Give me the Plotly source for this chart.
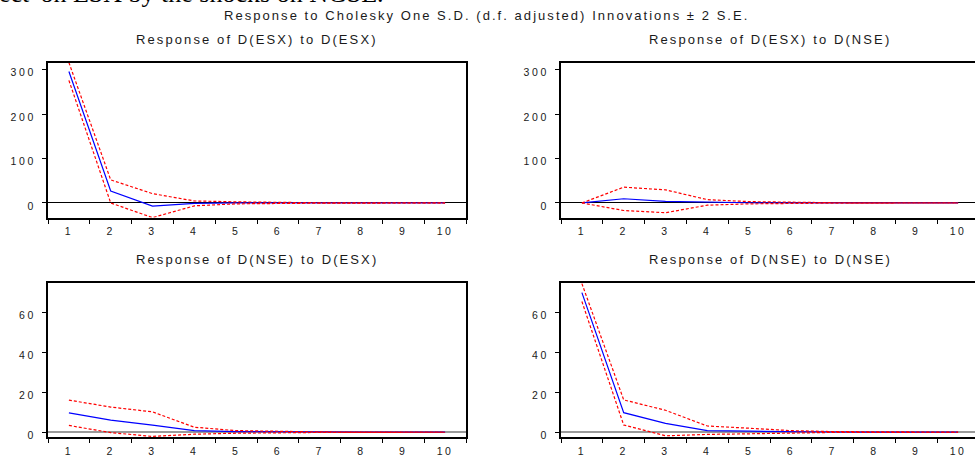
import plotly.graph_objects as go

# ---------------- data ----------------
periods = [1, 2, 3, 4, 5, 6, 7, 8, 9, 10]

esx_esx_resp = [296, 27, -7, -1, 0.3, 0.1, 0.0, 0.0, 0.0, 0.0]
esx_esx_up = [316, 52, 21, 4.5, 2.5, 1.0, 0.4, 0.2, 0.1, 0.05]
esx_esx_lo = [276, 0, -33, -6.5, -2.0, -0.8, -0.4, -0.2, -0.1, -0.05]

esx_nse_resp = [0, 9.5, 3.7, 1.5, 0.5, 0.2, 0.1, 0.0, 0.0, 0.0]
esx_nse_up = [0, 35.5, 29.5, 7.5, 3.0, 1.2, 0.5, 0.2, 0.1, 0.05]
esx_nse_lo = [0, -17, -22, -5, -2.0, -0.8, -0.3, -0.2, -0.1, -0.05]

nse_esx_resp = [9.7, 6.1, 3.6, 0.8, 0.3, 0.1, 0.05, 0.0, 0.0, 0.0]
nse_esx_up = [16.1, 12.6, 10.2, 2.5, 0.8, 0.35, 0.15, 0.05, 0.02, 0.01]
nse_esx_lo = [3.4, -0.2, -2.1, -1.0, -0.5, -0.2, -0.1, -0.05, -0.02, -0.01]

nse_nse_resp = [70, 9.8, 4.4, 0.8, 0.5, 0.2, 0.1, 0.05, 0.0, 0.0]
nse_nse_up = [74.5, 16.2, 11, 3.1, 2.0, 0.8, 0.3, 0.1, 0.05, 0.02]
nse_nse_lo = [65.5, 3.6, -1.8, -1.1, -0.8, -0.4, -0.1, -0.05, -0.02, -0.01]

top_yticks = [0, 100, 200, 300]
bottom_yticks = [0, 20, 40, 60]

main_title = "Response to Cholesky One S.D. (d.f. adjusted) Innovations ± 2 S.E."
panel_titles = [
    "Response of D(ESX) to D(ESX)",
    "Response of D(ESX) to D(NSE)",
    "Response of D(NSE) to D(ESX)",
    "Response of D(NSE) to D(NSE)",
]
doc_text = "ect' on ESX by the shocks on NGSE."

# ---------------- layout helpers ----------------
W, H = 975, 457
FONT = "Liberation Sans, Arial, sans-serif"
TXT = "#1a1a1a"


def fx(p):
    return p / W


def fy(p):
    return 1 - p / H


def spaced(t, s):
    return f'<span style="letter-spacing:{s}px">{t}</span>'


panels = [
    dict(title=panel_titles[0], resp=esx_esx_resp, up=esx_esx_up, lo=esx_esx_lo,
         xd=(48, 466), yd=(64, 221), xr=[0.5, 10.5], yr=[-33, 315], yt=top_yticks,
         zc="black", zw=1, left=True),
    dict(title=panel_titles[1], resp=esx_nse_resp, up=esx_nse_up, lo=esx_nse_lo,
         xd=(561, 975), yd=(64, 221), xr=[0.5, 0.5 + 414 / 41.8], yr=[-33, 315], yt=top_yticks,
         zc="black", zw=1, left=False),
    dict(title=panel_titles[2], resp=nse_esx_resp, up=nse_esx_up, lo=nse_esx_lo,
         xd=(48, 466), yd=(287, 444), xr=[0.5, 10.5], yr=[-2.5, 75], yt=bottom_yticks,
         zc="#9a9a9a", zw=2, left=True),
    dict(title=panel_titles[3], resp=nse_nse_resp, up=nse_nse_up, lo=nse_nse_lo,
         xd=(561, 975), yd=(287, 444), xr=[0.5, 0.5 + 414 / 41.8], yr=[-2.5, 75], yt=bottom_yticks,
         zc="#9a9a9a", zw=2, left=False),
]

fig = go.Figure()
annotations = []
minor_vals = [p + 0.5 for p in range(0, 11)]

for i, p in enumerate(panels):
    n = "" if i == 0 else str(i + 1)
    xa, ya = "x" + n, "y" + n
    fig.add_trace(go.Scatter(x=periods, y=p["resp"], mode="lines", xaxis=xa, yaxis=ya,
                             line=dict(color="#0000ff", width=1.2)))
    for band in (p["up"], p["lo"]):
        fig.add_trace(go.Scatter(x=periods, y=band, mode="lines", xaxis=xa, yaxis=ya,
                                 line=dict(color="#ff0000", width=1.2, dash="3px,2px")))

    fig.layout["xaxis" + n] = dict(
        domain=[fx(p["xd"][0]), fx(p["xd"][1])], range=p["xr"], anchor=ya,
        tickvals=periods, ticktext=[spaced(str(v), 2.6) for v in periods],
        ticks="", showgrid=False, zeroline=False,
        showline=True, linecolor="black", linewidth=2, mirror=True,
        tickfont=dict(family=FONT, size=10.5, color=TXT), ticklabelstandoff=3,
        minor=dict(tickvals=minor_vals, ticks="outside", ticklen=4,
                   tickwidth=1, tickcolor="black", showgrid=False),
    )
    fig.layout["yaxis" + n] = dict(
        domain=[fy(p["yd"][1]), fy(p["yd"][0])], range=p["yr"], anchor=xa,
        tickvals=p["yt"], ticktext=[spaced(str(v), 2.6) for v in p["yt"]],
        ticks="outside", ticklen=4, tickwidth=1, tickcolor="black",
        showgrid=False, zeroline=True, zerolinecolor=p["zc"], zerolinewidth=p["zw"],
        showline=True, linecolor="black", linewidth=2, mirror=p["left"],
        tickfont=dict(family=FONT, size=10.5, color=TXT), ticklabelstandoff=4,
        ticklabelshift=3,
    )
    full_right = p["xd"][0] + (10.5 - 0.5) * (p["xd"][1] - p["xd"][0]) / (p["xr"][1] - p["xr"][0])
    cx = (p["xd"][0] + full_right) / 2
    cy = 40 if p["yd"][0] < 100 else 264
    annotations.append(dict(text=spaced(p["title"], 2.1), x=fx(cx), y=fy(cy),
                            xref="paper", yref="paper", xanchor="center", yanchor="middle",
                            showarrow=False, font=dict(family=FONT, size=13, color=TXT)))

annotations.append(dict(text=spaced(main_title, 2.05), x=fx(486), y=fy(15.5),
                        xref="paper", yref="paper", xanchor="center", yanchor="middle",
                        showarrow=False, font=dict(family=FONT, size=13, color=TXT)))
annotations.append(dict(text=doc_text, x=0, y=fy(-7), xshift=-3,
                        xref="paper", yref="paper", xanchor="left", yanchor="middle",
                        showarrow=False, font=dict(family="Liberation Serif, Times New Roman, serif",
                                                   size=26, color="black")))

fig.update_layout(
    width=W, height=H, margin=dict(l=0, r=0, t=0, b=0),
    paper_bgcolor="white", plot_bgcolor="white", showlegend=False,
    annotations=annotations,
)

fig.write_html("out.html")
